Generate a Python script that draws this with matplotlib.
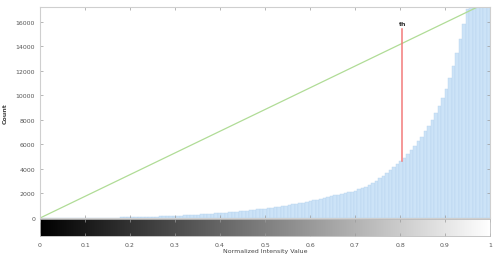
import numpy as np
import matplotlib
matplotlib.use("Agg")
import matplotlib.pyplot as plt

# histogram counts, 128 bins over [0, 1]
counts = [0] * 13 + [
    5, 8, 10, 14, 18, 20, 25, 30, 34, 40, 45, 52, 58, 64, 70, 78, 85, 95, 104,
    112, 120, 130, 142, 150, 162, 175, 185, 200, 215, 230, 248, 262, 280, 298,
    315, 335, 355, 375, 400, 420, 445, 470, 495, 520, 550, 580, 610, 640, 670,
    705, 740, 775, 815, 850, 890, 930, 975, 1020, 1065, 1110, 1160, 1210, 1265,
    1320, 1380, 1440, 1500, 1570, 1640, 1710, 1790, 1850, 1900, 1960, 2020,
    2090, 2160, 2240, 2330, 2440, 2560, 2700, 2860, 3040, 3230, 3440, 3660,
    3890, 4130, 4380, 4640, 4920, 5220, 5540, 5880, 6250, 6640, 7060, 7520,
    8020, 8560, 9150, 9800, 10550, 11400, 12350, 13450, 14600, 15800, 17000,
    19500, 21500, 24000, 26000, 28000, 25000]
bin_edges = np.linspace(0, 1, len(counts) + 1)

# triangle line (lowest bin -> peak) and threshold marker
tri_x = [0.0, 0.98]
tri_y = [0, 17330]
thresh = 0.805
thresh_top = 15400
thresh_label = "th"

yticks = [0, 2000, 4000, 6000, 8000, 10000, 12000, 14000, 16000]
xticks = [0, 0.1, 0.2, 0.3, 0.4, 0.5, 0.6, 0.7, 0.8, 0.9, 1]
ymax = 17200

fig = plt.figure(figsize=(4.94, 2.55), dpi=100)
ax = fig.add_axes([0.081, 0.141, 0.911, 0.828])
cax = fig.add_axes([0.081, 0.0706, 0.911, 0.0667])

fs = 4.5

ax.bar(bin_edges[:-1], counts, width=np.diff(bin_edges), align="edge",
       color="#cce3f7", edgecolor="#b8d4ef", linewidth=0.3)
ax.plot(tri_x, tri_y, color="#b0dc96", linewidth=0.9)
bar_h = counts[int(thresh * len(counts))]
ax.plot([thresh, thresh], [bar_h, thresh_top], color="#f27a7a", linewidth=1.1)
ax.text(thresh, thresh_top + 250, thresh_label, ha="center", va="bottom",
        fontsize=fs, fontweight="bold", color="#333333")

ax.set_xlim(0, 1)
ax.set_ylim(0, ymax)
ax.set_yticks(yticks)
ax.set_yticklabels([str(v) for v in yticks], fontsize=fs)
ax.set_xticks(xticks)
ax.set_xticklabels([])
ax.tick_params(axis="both", direction="in", length=2, width=0.5, colors="#9a9a9a",
               top=True, right=True, labelcolor="#555555")
for s in ax.spines.values():
    s.set_color("#cfcfcf")
    s.set_linewidth(0.8)
ax.set_ylabel("Count", fontsize=fs, fontweight="bold", color="#444444", labelpad=6)

# grayscale intensity strip
grad = np.linspace(0, 1, 256).reshape(1, -1)
cax.imshow(grad, cmap="gray", aspect="auto", extent=[0, 1, 0, 1], vmin=0, vmax=1)
cax.set_xlim(0, 1)
cax.set_yticks([])
cax.set_xticks(xticks)
cax.set_xticklabels([f"{v:g}" for v in xticks], fontsize=fs)
cax.tick_params(axis="x", direction="in", length=2, width=0.5, colors="#9a9a9a",
                top=True, labelcolor="#555555", pad=4)
for s in cax.spines.values():
    s.set_color("#bbbbbb")
    s.set_linewidth(0.6)
cax.set_xlabel("Normalized Intensity Value", fontsize=fs, color="#444444", labelpad=1)

fig.savefig("out.png", dpi=100)
